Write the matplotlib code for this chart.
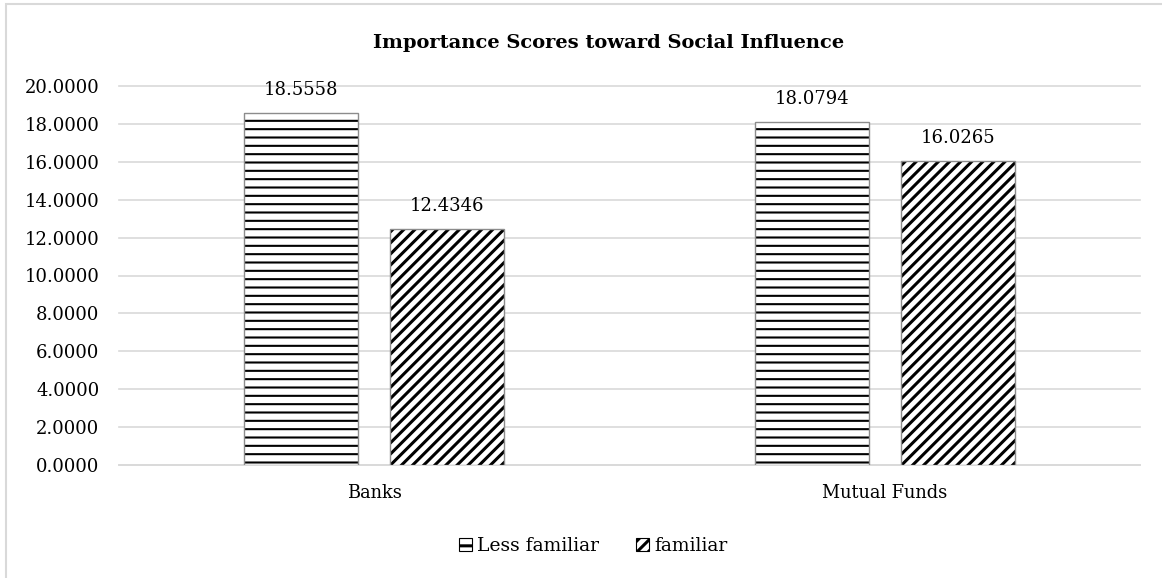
import matplotlib.pyplot as plt
import numpy as np
from matplotlib.patches import Rectangle, Patch

categories = ["Banks", "Mutual Funds"]
less_familiar = [18.5558, 18.0794]
familiar = [12.4346, 16.0265]
series_names = ["Less familiar", "familiar"]
yticks = [0, 2, 4, 6, 8, 10, 12, 14, 16, 18, 20]

plt.rcParams['font.family'] = ['DejaVu Serif']

fig = plt.figure(figsize=(11.62, 5.78), dpi=100)
ax = fig.add_axes([119/1162, 1-465/578, (1140-119)/1162, (465-86)/578])

# chart frame
fig.patches.append(Rectangle((6/1162, -0.1), 1.2, (1-4/578)+0.1, transform=fig.transFigure,
                             fill=False, edgecolor="#d9d9d9", linewidth=1.5))

x = np.arange(len(categories))
w = 0.2236
gap = 0.0627
off = (w + gap) / 2

plt.rcParams['hatch.linewidth'] = 1.5
b1 = ax.bar(x - off, less_familiar, w, facecolor="white", edgecolor="black", hatch="--",
            linewidth=0, zorder=3)
h1 = Patch(facecolor="white", edgecolor="black", hatch="--", linewidth=0.8)
plt.rcParams['hatch.linewidth'] = 2.2
b2 = ax.bar(x + off, familiar, w, facecolor="white", edgecolor="black", hatch="///",
            linewidth=0, zorder=3)
h2 = Patch(facecolor="white", edgecolor="black", hatch="///", linewidth=0.8)
# thin grey outlines like the original
ax.bar(x - off, less_familiar, w, fill=False, edgecolor="#8c8c8c", linewidth=1.0, zorder=4)
ax.bar(x + off, familiar, w, fill=False, edgecolor="#8c8c8c", linewidth=1.0, zorder=4)

for bars in (b1, b2):
    for r in bars:
        ax.text(r.get_x() + r.get_width()/2, r.get_height() + 0.75, "%.4f" % r.get_height(),
                ha="center", va="bottom", fontsize=13)

ax.set_xlim(-0.5, 1.5)
ax.set_ylim(0, 20)
ax.set_yticks(yticks)
ax.set_yticklabels(["%.4f" % v for v in yticks], fontsize=13)
ax.set_xticks(x)
ax.set_xticklabels(categories, fontsize=12.8)
ax.tick_params(length=0, pad=14)
ax.tick_params(axis="x", pad=14)
ax.grid(axis="y", color="#d9d9d9", linewidth=1.2, zorder=0)
for gl in ax.get_ygridlines():
    gl.set_clip_on(False)
for s in ["top", "right", "left"]:
    ax.spines[s].set_visible(False)
ax.spines["bottom"].set_color("#d9d9d9")
ax.spines["bottom"].set_linewidth(1.2)

fig.text(609/1162, 1 - 43/578, "Importance Scores toward Social Influence",
         ha="center", va="center", fontsize=14, fontweight="bold")

fig.legend(handles=[h1, h2], labels=series_names, loc="center", bbox_to_anchor=(593/1162, 1-546/578),
           ncol=2, frameon=False, fontsize=13.5, handlelength=0.7, handleheight=0.7,
           handletextpad=0.25, columnspacing=2.0)

fig.savefig("out.png", dpi=100)
